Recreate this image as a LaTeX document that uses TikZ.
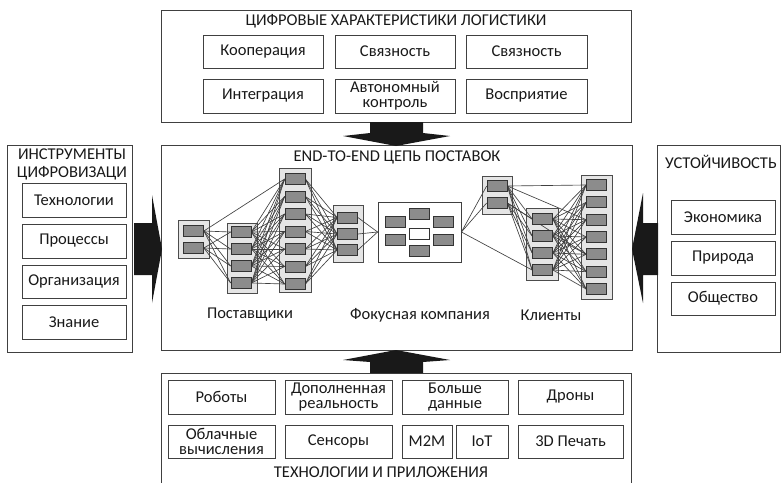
\documentclass[tikz,border=0pt]{standalone}
\usepackage{fontspec}
\setmainfont{Carlito}
\begin{document}
\begin{tikzpicture}[x=1pt,y=-1pt,
  box/.style={draw=black!75, line width=0.9pt, fill=white, inner sep=0pt, align=center,
    font=\fontsize{16.5}{15}\selectfont, text=black!90},
  frame/.style={draw=black!75, line width=0.9pt, inner sep=0pt},
  ttl/.style={font=\fontsize{16.5}{17}\selectfont, text=black!90, align=center, inner sep=0pt},
  grp/.style={draw=black!70, line width=0.8pt, fill=black!10, inner sep=0pt},
  cell/.style={draw=black!80, line width=0.7pt, fill=black!45, minimum width=20pt, minimum height=11pt, inner sep=0pt},
  link/.style={draw=black!75, line width=0.65pt},
  arr/.style={fill=black!90, draw=none}]
\useasboundingbox (0,0) rectangle (781,482);
\fill[white] (0,0) rectangle (781,482);

% ---------- top frame ----------
\node[frame, minimum width=470, minimum height=112] (top) at (396,66) {};
\node[ttl] (ttop) at (396,21) {ЦИФРОВЫЕ ХАРАКТЕРИСТИКИ ЛОГИСТИКИ};
\node[box, minimum width=120, minimum height=33] (koop) at (263,51.5) {Кооперация};
\node[box, minimum width=120, minimum height=33] (sv1) at (395,51.5) {Связность};
\node[box, minimum width=121, minimum height=33] (sv2) at (526.5,51.5) {Связность};
\node[box, minimum width=120, minimum height=34] (integ) at (263,96) {Интеграция};
\node[box, minimum width=120, minimum height=34] (auto) at (395,96) {Автономный\\контроль};
\node[box, minimum width=121, minimum height=34] (vosp) at (526.5,96) {Восприятие};

% ---------- middle frame ----------
\node[frame, minimum width=471, minimum height=205] (mid) at (396.5,247.5) {};
\node[ttl] (tmid) at (397,157) {END-TO-END ЦЕПЬ ПОСТАВОК};

% ---------- left frame ----------
\node[frame, minimum width=125, minimum height=207] (left) at (69.5,248.5) {};
\node[ttl, font=\fontsize{16.5}{18}\selectfont] (tleft) at (72,164) {ИНСТРУМЕНТЫ\\ЦИФРОВИЗАЦИ};
\node[box, minimum width=104, minimum height=34] (tech) at (74,200) {Технологии};
\node[box, minimum width=104, minimum height=34] (proc) at (74,241) {Процессы};
\node[box, minimum width=104, minimum height=33] (org) at (74,281.5) {Организация};
\node[box, minimum width=104, minimum height=34] (know) at (74,322) {Знание};

% ---------- right frame ----------
\node[frame, minimum width=123, minimum height=207] (right) at (718.5,248.5) {};
\node[ttl] (tright) at (721,162) {УСТОЙЧИВОСТЬ};
\node[box, minimum width=104, minimum height=34] (econ) at (723,217) {Экономика};
\node[box, minimum width=104, minimum height=34] (nat) at (723,258) {Природа};
\node[box, minimum width=104, minimum height=33] (soc) at (723,298.5) {Общество};

% ---------- bottom frame ----------
\node[frame, minimum width=470, minimum height=122] (bot) at (396,434) {};
\node[ttl] (tbot) at (381,472) {ТЕХНОЛОГИИ И ПРИЛОЖЕНИЯ};
\node[box, minimum width=107, minimum height=34] (rob) at (221.5,397) {Роботы};
\node[box, minimum width=107, minimum height=34] (ar) at (338.5,397) {Дополненная\\реальность};
\node[box, minimum width=106, minimum height=34] (big) at (455,397) {Больше\\данные};
\node[box, minimum width=105, minimum height=34] (dron) at (570.5,397) {Дроны};
\node[box, minimum width=107, minimum height=33] (cloud) at (221.5,441.5) {Облачные\\вычисления};
\node[box, minimum width=107, minimum height=33] (sens) at (338.5,441.5) {Сенсоры};
\node[box, minimum width=50, minimum height=33] (mm) at (427,441.5) {M2M};
\node[box, minimum width=52, minimum height=33] (iot) at (482,441.5) {IoT};
\node[box, minimum width=105, minimum height=33] (print) at (570.5,441.5) {3D Печать};

% ---------- block arrows ----------
\fill[arr] (370,122) -- (423,122) -- (423,133) -- (450,136) -- (396,146) -- (343,136) -- (370,133) -- cycle;
\fill[arr] (370,373) -- (423,373) -- (423,362) -- (450,360) -- (396,350) -- (343,360) -- (370,362) -- cycle;
\fill[arr] (134,223) -- (152,223) -- (152,195) -- (162,249) -- (152,303) -- (152,275) -- (134,275) -- cycle;
\fill[arr] (658,223) -- (643,223) -- (643,193) -- (632,249) -- (643,303) -- (643,275) -- (658,275) -- cycle;

% ---------- network frames ----------
\node[grp, minimum width=31, minimum height=38] (gA) at (193.5,239) {};
\node[grp, minimum width=30, minimum height=70] (gB) at (242,258) {};
\node[grp, minimum width=32, minimum height=124] (gC) at (295,230) {};
\node[grp, minimum width=30, minimum height=57] (gD) at (348,233.5) {};
\node[frame, minimum width=83, minimum height=60, fill=white, line width=0.8pt] (focus) at (419.5,232) {};
\node[grp, minimum width=30, minimum height=38] (gE) at (497,195) {};
\node[grp, minimum width=32, minimum height=72] (gF) at (542,244) {};
\node[grp, minimum width=31, minimum height=124] (gG) at (596.5,237) {};

% ---------- cells ----------
\foreach \y [count=\i] in {231,248} \coordinate (cA\i) at (193.5,\y);
\foreach \y [count=\i] in {232,249,266,283} \coordinate (cB\i) at (241,\y);
\foreach \y [count=\i] in {179,196.5,214,231.5,249,266.5,284} \coordinate (cC\i) at (295,\y);
\foreach \y [count=\i] in {217.5,234,250} \coordinate (cD\i) at (347.5,\y);
\foreach \y [count=\i] in {186,203} \coordinate (cE\i) at (497,\y);
\foreach \y [count=\i] in {219,236,253,270} \coordinate (cF\i) at (542.5,\y);
\foreach \y [count=\i] in {185,202.3,219.7,237,254.3,271.7,289} \coordinate (cG\i) at (596.5,\y);

\foreach \i in {1,2} \node[cell] (A\i) at (cA\i) {};
\foreach \i in {1,...,4} \node[cell] (B\i) at (cB\i) {};
\foreach \i in {1,...,7} \node[cell] (C\i) at (cC\i) {};
\foreach \i in {1,...,3} \node[cell] (D\i) at (cD\i) {};
\foreach \i in {1,2} \node[cell] (E\i) at (cE\i) {};
\foreach \i in {1,...,4} \node[cell] (F\i) at (cF\i) {};
\foreach \i in {1,...,7} \node[cell] (G\i) at (cG\i) {};

\node[cell] (K1) at (395,222) {};
\node[cell] (K2) at (395,240) {};
\node[cell] (K3) at (419,214) {};
\node[cell, fill=white] (K4) at (419,233.5) {};
\node[cell] (K5) at (419,251) {};
\node[cell] (K6) at (443.5,222) {};
\node[cell] (K7) at (443.5,240) {};

% ---------- links ----------
\foreach \i in {1,2} \foreach \j in {1,...,4} \draw[link] (A\i.east) -- (B\j.west);
\draw[link] (A1.east) -- (C1.west);
\foreach \i in {1,...,4} \foreach \j in {1,...,7} \draw[link] (B\i.east) -- (C\j.west);
\foreach \i in {1,...,7} \foreach \j in {1,...,3} \draw[link] (C\i.east) -- (D\j.west);
\foreach \i in {1,...,3} \draw[link] (D\i.east) -- (focus.west);
\foreach \j in {1,2} \draw[link] (focus.east) -- (E\j.west);
\draw[link] (focus.east) -- (F4.west);
\foreach \i in {1,2} \foreach \j in {1,...,4} \draw[link] (E\i.east) -- (F\j.west);
\draw[link] (E1.east) -- (G1.west);
\draw[link] (E1.east) -- (G3.west);
\draw[link] (E2.east) -- (G5.west);
\foreach \i in {1,...,4} \foreach \j in {1,...,7} \draw[link] (F\i.east) -- (G\j.west);

% redraw cells on top of links
\foreach \i in {1,2} \node[cell] at (cA\i) {};
\foreach \i in {1,...,4} \node[cell] at (cB\i) {};
\foreach \i in {1,...,7} \node[cell] at (cC\i) {};
\foreach \i in {1,...,3} \node[cell] at (cD\i) {};
\foreach \i in {1,2} \node[cell] at (cE\i) {};
\foreach \i in {1,...,4} \node[cell] at (cF\i) {};
\foreach \i in {1,...,7} \node[cell] at (cG\i) {};

% ---------- labels ----------
\node[ttl] (lsup) at (250,315) {Поставщики};
\node[ttl] (lfoc) at (420,315) {Фокусная компания};
\node[ttl] (lcli) at (551,315) {Клиенты};
\end{tikzpicture}
\end{document}
